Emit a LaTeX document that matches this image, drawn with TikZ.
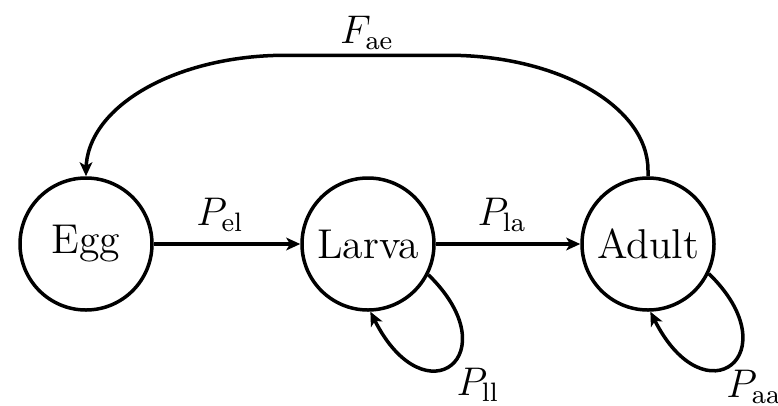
\documentclass[tikz,border=0pt]{standalone}
\usetikzlibrary{arrows.meta}
\begin{document}
\begin{tikzpicture}[x=0.3pt,y=0.3pt,
  state/.style={circle,draw,line width=1.05pt,minimum size=39.6pt,inner sep=0pt,font=\fontsize{12.5}{14}\selectfont},
  lbl/.style={inner sep=0pt,font=\fontsize{11.5}{13}\selectfont},
  link/.style={line width=1.05pt,-{Stealth[length=4.2pt,width=3.8pt,inset=1.1pt]}}]
\useasboundingbox (0,0) rectangle (778,405);
\node[state] (egg) at (86,161) {Egg};
\node[state] (larva) at (368,161) {Larva};
\node[state] (adult) at (648,161) {Adult};
\draw[link] (egg) -- (larva);
\draw[link] (larva) -- (adult);
\draw[link] (adult.north) -- ++(0,6)
  arc[start angle=0,end angle=90,x radius=200,y radius=115] -- ++(-162,0)
  arc[start angle=90,end angle=180,x radius=200,y radius=115] -- (egg.north);
\draw[link] (larva.-27) .. controls +(82,-80) and +(55,-109) .. (larva.-88);
\draw[link] (adult.-26) .. controls +(82,-80) and +(55,-109) .. (adult.-88);
\node[lbl] (pel) at (220,190) {$P_{\mathrm{el}}$};
\node[lbl] (pla) at (502,190) {$P_{\mathrm{la}}$};
\node[lbl] (pll) at (478,20) {$P_{\mathrm{ll}}$};
\node[lbl] (paa) at (754,18) {$P_{\mathrm{aa}}$};
\node[lbl] (fae) at (367,372) {$F_{\mathrm{ae}}$};
\end{tikzpicture}
\end{document}
